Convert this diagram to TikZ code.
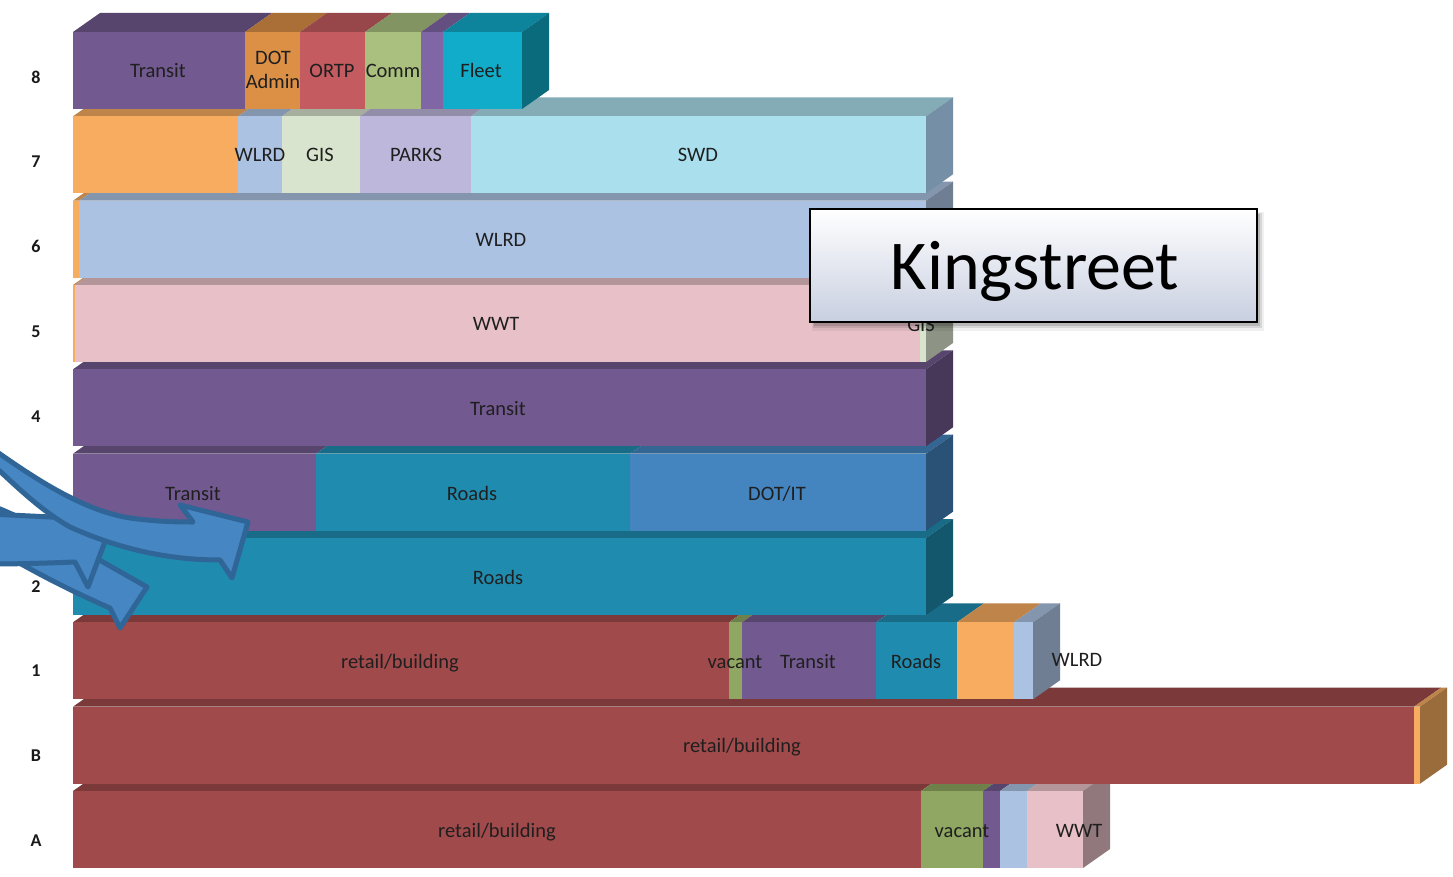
\documentclass[tikz,border=0pt]{standalone}
\usepackage{fontspec}
\setmainfont{Carlito}
\usetikzlibrary{shadings}

% segment colours
\definecolor{transit}{HTML}{72598F}
\definecolor{dotadmin}{HTML}{DC9046}
\definecolor{ortp}{HTML}{C45B60}
\definecolor{comm}{HTML}{A9C07E}
\definecolor{purpB}{HTML}{8166A6}
\definecolor{fleet}{HTML}{11ACC9}
\definecolor{orng}{HTML}{F8AC5F}
\definecolor{wlrd}{HTML}{ABC2E2}
\definecolor{gis}{HTML}{D8E4CD}
\definecolor{parks}{HTML}{BDB8DB}
\definecolor{swd}{HTML}{AADFEE}
\definecolor{wwt}{HTML}{E8C1C8}
\definecolor{roads}{HTML}{1F8CAF}
\definecolor{dotit}{HTML}{4484BF}
\definecolor{retail}{HTML}{A14A4B}
\definecolor{vacant}{HTML}{8FA762}
\definecolor{swdside}{HTML}{7590A6}
\definecolor{arrowfill}{HTML}{4686C2}
\definecolor{arrowline}{HTML}{2F6597}
\definecolor{boxbottom}{HTML}{C8CFE0}

% one segment of a floor: x0, x1, top of front face, colour
\newcommand{\slab}[4]{%
  \fill[#4!77!black] (#1,#3) -- (#1+27,#3-19) -- (#2+27,#3-19) -- (#2,#3) -- cycle;
  \fill[#4] (#1,#3) rectangle (#2,#3+77);}
% right-hand end face of a floor: x1, top of front face, face colour
\newcommand{\slabside}[3]{%
  \fill[#3] (#1,#2) -- (#1+27,#2-19) -- (#1+27,#2+58) -- (#1,#2+77) -- cycle;}

\tikzset{
  lbl/.style={anchor=base, inner sep=0pt, font=\fontsize{20.5}{24}\selectfont, text=black!88},
  floorlbl/.style={anchor=base, inner sep=0pt, font=\fontsize{18}{20}\selectfont\bfseries, text=black!90},
  blockarrow/.style={fill=arrowfill, draw=arrowline, line width=5pt, line join=round},
}

\begin{document}
\begin{tikzpicture}[x=1pt,y=-1pt]
\useasboundingbox (0,0) rectangle (1453,877);
\fill[white] (0,0) rectangle (1453,877);

% ---- floor A ----
\slab{73}{921}{791}{retail}
\slab{921}{983}{791}{vacant}
\slab{983}{1000}{791}{transit}
\slab{1000}{1027}{791}{wlrd}
\slab{1027}{1083}{791}{wwt}
\slabside{1083}{791}{wwt!62!black}
\node[lbl] (aretail) at (497,837) {retail/building};
\node[lbl] (avacant) at (962,837) {vacant};
\node[lbl] (awwt) at (1079,837) {WWT};

% ---- floor B ----
\slab{73}{1414}{706.7}{retail}
\slab{1414}{1420}{706.7}{orng}
\slabside{1420}{706.7}{orng!62!black}
\node[lbl] (bretail) at (742,752.5) {retail/building};

% ---- floor 1 ----
\slab{73}{729}{622.3}{retail}
\slab{729}{742}{622.3}{vacant}
\slab{742}{876}{622.3}{transit}
\slab{876}{957}{622.3}{roads}
\slab{957}{1014}{622.3}{orng}
\slab{1014}{1033}{622.3}{wlrd}
\slabside{1033}{622.3}{wlrd!65!black}
\node[lbl] (oretail) at (400,668) {retail/building};
\node[lbl] (ovacant) at (735,668) {vacant};
\node[lbl] (otransit) at (808,668) {Transit};
\node[lbl] (oroads) at (916,668) {Roads};
\node[lbl] (owlrd) at (1077,666) {WLRD};

% ---- floor 2 ----
\slab{73}{926}{538}{roads}
\slabside{926}{538}{roads!62!black}
\node[lbl] (troads) at (498,584) {Roads};

% ---- floor 3 ----
\slab{73}{316}{453.7}{transit}
\slab{316}{630}{453.7}{roads}
\slab{630}{926}{453.7}{dotit}
\slabside{926}{453.7}{dotit!62!black}
\node[lbl] (ttransit) at (193,500) {Transit};
\node[lbl] (throads) at (472,500) {Roads};
\node[lbl] (thdotit) at (777,500) {DOT/IT};

% ---- floor 4 ----
\slab{73}{926}{369.3}{transit}
\slabside{926}{369.3}{transit!62!black}
\node[lbl] (ftransit) at (498,415.5) {Transit};

% ---- floor 5 ----
\slab{73}{75}{285}{orng}
\slab{75}{920}{285}{wwt}
\slab{920}{926}{285}{gis}
\slabside{926}{285}{gis!65!black}
\node[lbl] (fiwwt) at (496,330.5) {WWT};
\node[lbl] (figis) at (921,331) {GIS};

% ---- floor 6 ----
\slab{73}{79}{200.7}{orng}
\slab{79}{926}{200.7}{wlrd}
\slabside{926}{200.7}{wlrd!65!black}
\node[lbl] (swlrd) at (501,246.5) {WLRD};

% ---- floor 7 ----
\slab{73}{238}{116.3}{orng}
\slab{238}{282}{116.3}{wlrd}
\slab{282}{360}{116.3}{gis}
\slab{360}{471}{116.3}{parks}
\slab{471}{926}{116.3}{swd}
\slabside{926}{116.3}{swdside}
\node[lbl] (vwlrd) at (260,162) {WLRD};
\node[lbl] (vgis) at (320,162) {GIS};
\node[lbl] (vparks) at (416,162) {PARKS};
\node[lbl] (vswd) at (698,162) {SWD};

% ---- floor 8 ----
\slab{73}{245}{32}{transit}
\slab{245}{300}{32}{dotadmin}
\slab{300}{365}{32}{ortp}
\slab{365}{421}{32}{comm}
\slab{421}{443}{32}{purpB}
\slab{443}{522}{32}{fleet}
\slabside{522}{32}{fleet!62!black}
\node[lbl] (etransit) at (158,78) {Transit};
\node[lbl, anchor=center, align=center] (edot) at (273,69.5) {DOT\\Admin};
\node[lbl] (eortp) at (332,78) {ORTP};
\node[lbl] (ecomm) at (393,78) {Comm};
\node[lbl] (efleet) at (481,78) {Fleet};

% ---- floor numbers ----
\node[floorlbl] (n8) at (36,84) {8};
\node[floorlbl] (n7) at (36,168) {7};
\node[floorlbl] (n6) at (36,253) {6};
\node[floorlbl] (n5) at (36,337) {5};
\node[floorlbl] (n4) at (36,422) {4};
\node[floorlbl] (n2) at (36,592) {2};
\node[floorlbl] (n1) at (36,676) {1};
\node[floorlbl] (nb) at (36,761) {B};
\node[floorlbl] (na) at (36,846) {A};

% ---- title box ----
\fill[black, opacity=0.06] (812,212) rectangle (1264,331);
\fill[black, opacity=0.10] (813,213) rectangle (1262,328);
\fill[black, opacity=0.14] (814,214) rectangle (1260,326);
\node[draw=black, line width=2.5pt, top color=white, bottom color=boxbottom,
      minimum width=447pt, minimum height=113pt, inner sep=0pt] (ks) at (1033.5,265.5) {};
\node[anchor=base, inner sep=0pt, font=\fontsize{70}{80}\selectfont] (kstext) at (1035,290) {Kingstreet};

% ---- block arrows on the left ----
\draw[blockarrow] (-10,505) .. controls (30,520) and (70,545) .. (103,562) -- (147,587)
  -- (120,628) -- (110,608) .. controls (80,595) and (50,580) .. (23,565)
  .. controls (10,558) and (0,552) .. (-10,548) -- cycle;
\draw[blockarrow] (-10,514) .. controls (30,516) and (70,518) .. (95,519) -- (110,528)
  -- (88,587) -- (75,562) .. controls (50,563) and (20,564) .. (-10,564) -- cycle;
\draw[blockarrow] (-10,447) .. controls (30,475) and (80,510) .. (130,518)
  .. controls (160,522) and (180,522) .. (193,522) -- (180,505) -- (248,522) -- (232,578)
  -- (220,560) .. controls (160,560) and (110,545) .. (70,527)
  .. controls (40,510) and (15,485) .. (-10,462) -- cycle;
\end{tikzpicture}
\end{document}
